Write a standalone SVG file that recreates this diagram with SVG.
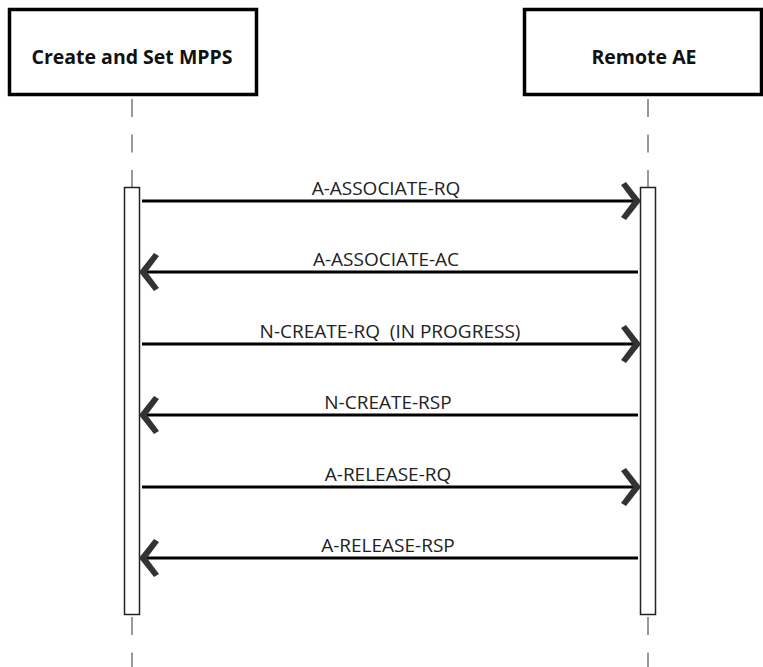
<svg xmlns="http://www.w3.org/2000/svg" width="763" height="667" viewBox="0 0 763 667">
<style>
.box{fill:#fff;stroke:#000;stroke-width:3.5}
.title{font-family:"Open Sans","Noto Sans",sans-serif;font-weight:bold;font-size:19.5px;fill:#111;text-anchor:middle}
.life{stroke:#999;stroke-width:2;stroke-dasharray:18 17.5;fill:none}
.act{fill:#fff;stroke:#222;stroke-width:1.5}
.msg{stroke:#000;stroke-width:3;fill:none}
.head{fill:#333}
.lbl{font-family:"Open Sans","Noto Sans",sans-serif;font-size:19px;fill:#222;text-anchor:middle}
</style>
<rect width="763" height="667" fill="#fff"/>
<g id="lifelines">
<line class="life" x1="132" y1="99" x2="132" y2="187"/>
<line class="life" x1="132" y1="617" x2="132" y2="667"/>
<line class="life" x1="648" y1="99" x2="648" y2="187"/>
<line class="life" x1="648" y1="617" x2="648" y2="667"/>
</g>
<g id="node-create">
<rect class="box" x="9.5" y="9.5" width="247" height="85"/>
<text class="title" x="132" y="64">Create and Set MPPS</text>
</g>
<g id="node-remote">
<rect class="box" x="524.5" y="9.5" width="237" height="85"/>
<text class="title" x="644" y="64">Remote AE</text>
</g>
<g id="activation-left"><rect class="act" x="124.5" y="187.5" width="15" height="427"/></g>
<g id="activation-right"><rect class="act" x="640.5" y="187.5" width="15" height="427"/></g>
<g id="connectors">
<line class="msg" x1="142" y1="201" x2="636" y2="201"/>
<path class="head" d="M641,201 L626,182 L621,185 L633,201 L621,217 L626,220 Z"/>
<text class="lbl" x="386" y="195">A-ASSOCIATE-RQ</text>
<line class="msg" x1="638" y1="272" x2="144" y2="272"/>
<path class="head" d="M139,272 L154,253 L159,256 L147,272 L159,288 L154,291 Z"/>
<text class="lbl" x="386" y="266">A-ASSOCIATE-AC</text>
<line class="msg" x1="142" y1="344" x2="636" y2="344"/>
<path class="head" d="M641,344 L626,325 L621,328 L633,344 L621,360 L626,363 Z"/>
<text class="lbl" x="390" y="338">N-CREATE-RQ&#160; (IN PROGRESS)</text>
<line class="msg" x1="638" y1="415" x2="144" y2="415"/>
<path class="head" d="M139,415 L154,396 L159,399 L147,415 L159,431 L154,434 Z"/>
<text class="lbl" x="388" y="409">N-CREATE-RSP</text>
<line class="msg" x1="142" y1="487" x2="636" y2="487"/>
<path class="head" d="M641,487 L626,468 L621,471 L633,487 L621,503 L626,506 Z"/>
<text class="lbl" x="388" y="481">A-RELEASE-RQ</text>
<line class="msg" x1="638" y1="558" x2="144" y2="558"/>
<path class="head" d="M139,558 L154,539 L159,542 L147,558 L159,574 L154,577 Z"/>
<text class="lbl" x="388" y="552">A-RELEASE-RSP</text>
</g>
</svg>
